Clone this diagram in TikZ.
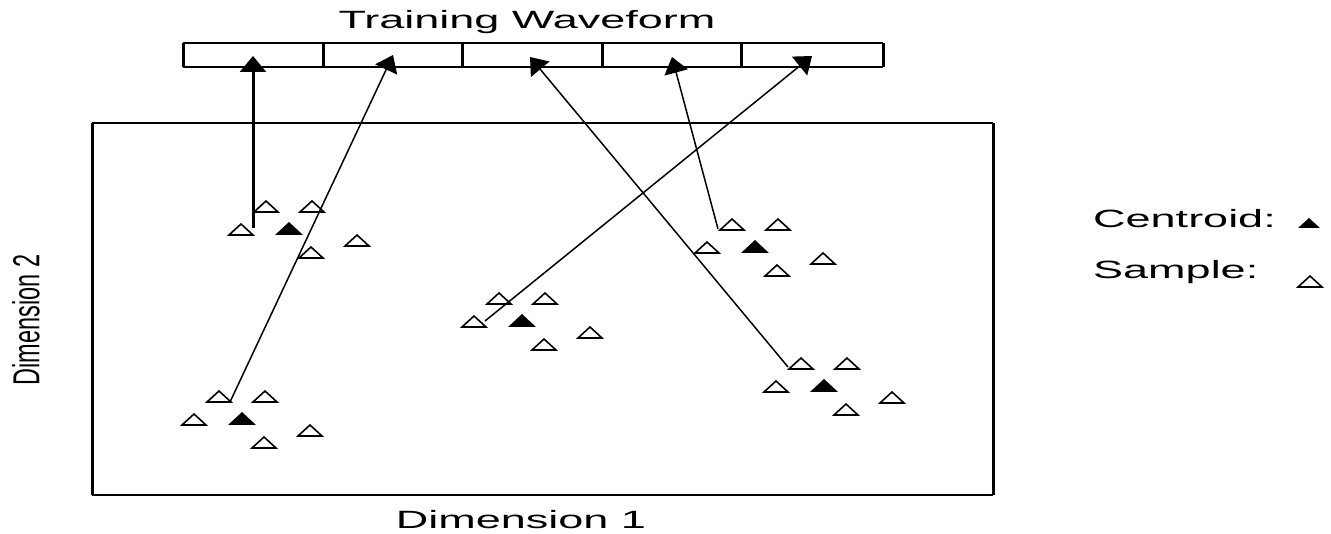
\documentclass[tikz,border=0pt]{standalone}
\usepackage{fontspec}
\setmainfont{Liberation Sans}
\usetikzlibrary{arrows.meta}
\newcommand{\wtxt}[1]{\scalebox{1.8}[1]{#1}}
\begin{document}
\begin{tikzpicture}[x=1pt,y=-1pt,
  lbl/.style={inner sep=0pt, font=\fontsize{25}{29}\selectfont},
  dlbl/.style={inner sep=0pt, font=\fontsize{23.5}{27}\selectfont},
  hline/.style={line width=1.3pt},
  vline/.style={line width=3pt},
  conn/.style={line width=1.5pt, -{Triangle[length=16pt,width=24pt]}},
  thickconn/.style={line width=3pt, -{Triangle[length=16pt,width=26pt]}},
  samp/.pic={\draw[line width=1.6pt, line join=miter] (-12,0) -- (12,0) -- (0,-11) -- cycle;},
  cent/.pic={\fill (-14,0) -- (14,0) -- (0,-13) -- cycle;},
  centsmall/.pic={\fill (-11,0) -- (11,0) -- (0,-10) -- cycle;},
  cluster/.pic={
    \pic at (0,0) {cent};
    \pic at (-48,0) {samp};
    \pic at (-23,-23) {samp};
    \pic at (23,-23) {samp};
    \pic at (22,23) {samp};
    \pic at (68,11) {samp};
  }
]
\useasboundingbox (0,0) rectangle (1331,534);

% title
\node[lbl, anchor=base] (title) at (527,29) {\wtxt{Training Waveform}};

% waveform bar
\draw[hline] (183,43) -- (883,43);
\draw[hline] (183,67) -- (883,67);
\foreach \xx in {183,323,462,602,741,883}
  \draw[vline] (\xx,43) -- (\xx,67);

% main box
\draw[hline] (92,123) -- (993,123);
\draw[hline] (92,495) -- (993,495);
\draw[vline] (92,123) -- (92,495);
\draw[vline] (993,123) -- (993,495);

% axis labels
\node[lbl, anchor=base] (dim1) at (521,528) {\wtxt{Dimension 1}};
\node[dlbl, rotate=90] (dim2) at (26,320) {\scalebox{1}[1.6]{Dimension 2}};

% clusters
\pic at (289,235) {cluster};
\pic at (242,425) {cluster};
\pic at (522,327) {cluster};
\pic at (755,253) {cluster};
\pic at (824,392) {cluster};

% arrow end points
\coordinate (s1) at (253,228);
\coordinate (s2) at (230,402);
\coordinate (s3) at (788,367);
\coordinate (s4) at (718,229);
\coordinate (s5) at (485,321);
\coordinate (t1) at (253,56);
\coordinate (t2) at (393,55);
\coordinate (t3) at (530,57);
\coordinate (t4) at (672,57);
\coordinate (t5) at (812,56);

\draw[thickconn] (s1) -- (t1);
\draw[conn] (s2) -- (t2);
\draw[conn] (s3) -- (t3);
\draw[conn] (s4) -- (t4);
\draw[conn] (s5) -- (t5);

% legend
\node[lbl, anchor=base west] (lc) at (1093,228) {\wtxt{Centroid:}};
\node[lbl, anchor=base west] (ls) at (1093,279) {\wtxt{Sample:}};
\pic at (1309,228) {centsmall};
\pic at (1310,287) {samp};
\end{tikzpicture}
\end{document}
